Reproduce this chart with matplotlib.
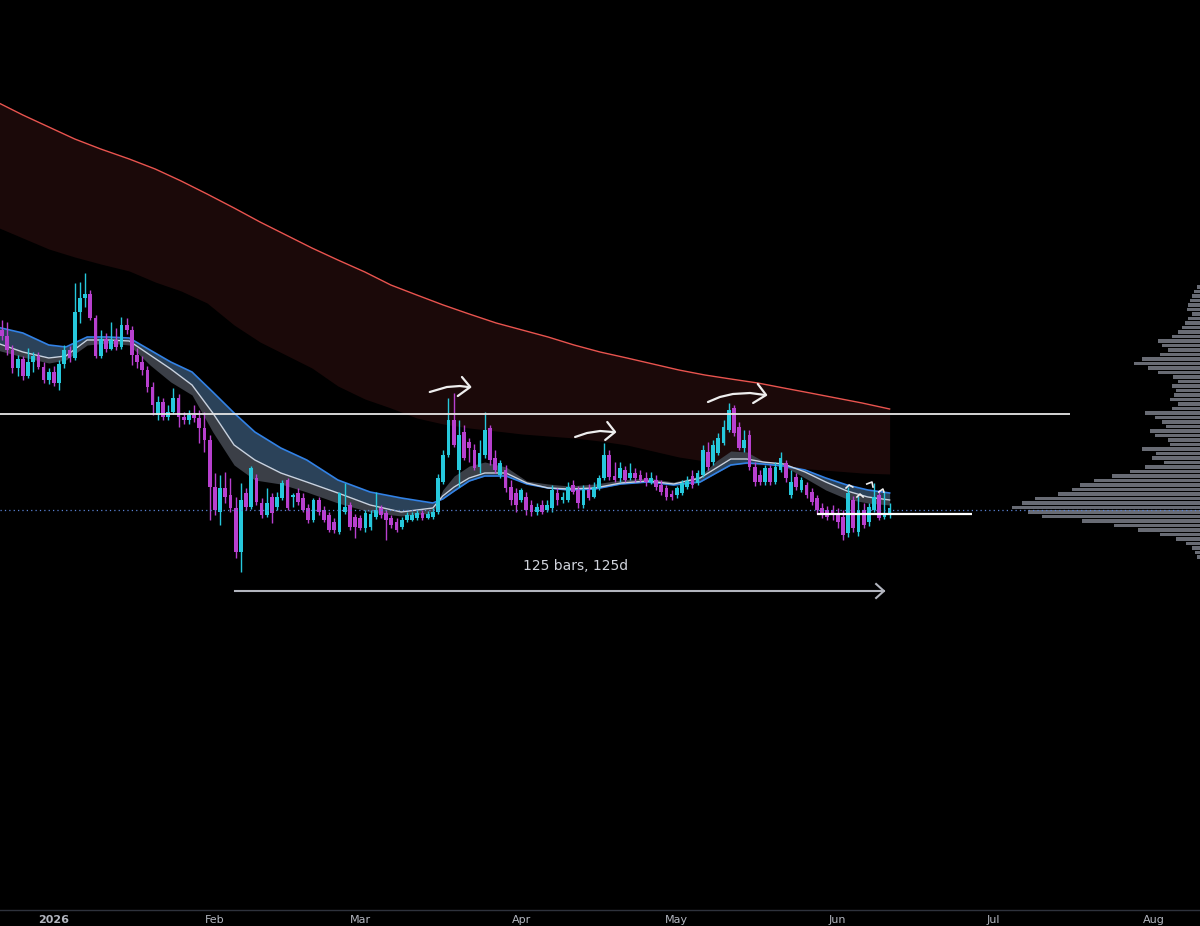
import numpy as np
import pandas as pd
import matplotlib
matplotlib.use('Agg')
import matplotlib.pyplot as plt

BASE = pd.Timestamp('2026-01-01')

# daily candles, 2025-12-22 .. 2026-06-11 (price units arbitrary, no scale shown)
start_date = '2025-12-22'
opens = [
    670, 664, 650, 632, 641, 624, 638, 644, 633, 620,
    628, 617, 636, 650, 642, 688, 702, 706, 682, 644,
    661, 651, 660, 653, 675, 670, 645, 638, 630, 613,
    585, 598, 583, 588, 602, 583, 580, 585, 582, 572,
    560, 513, 488, 512, 505, 492, 448, 507, 493, 522,
    497, 485, 503, 493, 502, 520, 503, 507, 502, 492,
    480, 500, 490, 485, 478, 468, 488, 495, 483, 482,
    472, 473, 483, 492, 487, 482, 478, 473, 480, 480,
    482, 487, 482, 483, 488, 518, 545, 580, 530, 568,
    558, 550, 533, 545, 572, 542, 525, 530, 513, 507,
    500, 503, 495, 488, 495, 490, 492, 507, 500, 500,
    515, 510, 495, 510, 503, 512, 522, 545, 524, 522,
    530, 522, 527, 525, 522, 518, 520, 515, 512, 506,
    505, 507, 513, 524, 517, 525, 548, 538, 547, 557,
    570, 592, 573, 552, 565, 533, 525, 518, 532, 518,
    530, 537, 505, 523, 510, 515, 508, 502, 492, 490,
    490, 487, 483, 467, 500, 468, 490, 478, 490, 505,
    483, 485,
]
highs = [
    680, 678, 655, 645, 644, 652, 648, 648, 638, 632,
    634, 640, 655, 654, 717, 718, 727, 710, 685, 670,
    667, 678, 672, 683, 682, 674, 652, 644, 634, 618,
    604, 602, 595, 612, 606, 588, 590, 595, 590, 588,
    565, 527, 525, 528, 522, 503, 517, 512, 534, 526,
    502, 512, 507, 508, 520, 522, 507, 512, 507, 496,
    502, 503, 494, 488, 482, 508, 517, 498, 486, 485,
    490, 490, 508, 495, 490, 485, 482, 483, 488, 488,
    490, 490, 489, 492, 526, 550, 602, 607, 580, 575,
    562, 556, 560, 588, 575, 550, 540, 535, 520, 512,
    512, 508, 500, 497, 500, 500, 515, 512, 508, 518,
    520, 514, 515, 516, 518, 525, 557, 550, 538, 538,
    534, 537, 532, 530, 528, 528, 525, 520, 515, 510,
    514, 520, 524, 530, 530, 555, 558, 560, 567, 580,
    597, 595, 578, 570, 570, 538, 530, 535, 535, 538,
    548, 540, 530, 527, 523, 518, 512, 505, 497, 494,
    495, 492, 490, 513, 504, 504, 497, 497, 517, 510,
    508, 497,
]
lows = [
    660, 645, 627, 624, 620, 622, 628, 631, 617, 616,
    614, 610, 632, 638, 640, 677, 693, 680, 642, 642,
    648, 650, 650, 651, 666, 635, 632, 625, 608, 585,
    580, 580, 580, 586, 573, 576, 576, 578, 557, 548,
    480, 485, 475, 497, 488, 442, 428, 490, 491, 495,
    482, 483, 477, 490, 500, 490, 493, 495, 488, 477,
    478, 485, 478, 468, 467, 466, 486, 470, 462, 470,
    468, 470, 481, 482, 460, 472, 468, 471, 478, 479,
    480, 480, 481, 481, 486, 516, 543, 553, 513, 540,
    538, 530, 527, 542, 535, 527, 522, 508, 495, 488,
    498, 485, 484, 485, 486, 488, 488, 495, 497, 498,
    506, 492, 492, 500, 502, 510, 520, 520, 518, 518,
    518, 520, 518, 518, 514, 516, 510, 505, 500, 500,
    502, 505, 511, 512, 515, 523, 530, 535, 545, 555,
    568, 564, 550, 548, 530, 514, 515, 515, 515, 516,
    528, 518, 502, 510, 508, 502, 495, 486, 482, 480,
    480, 472, 460, 463, 468, 464, 472, 474, 488, 480,
    481, 482,
]
closes = [
    664, 650, 632, 641, 624, 638, 644, 633, 620, 628,
    617, 636, 650, 642, 688, 702, 706, 682, 644, 661,
    651, 660, 653, 675, 670, 645, 638, 630, 613, 595,
    598, 583, 588, 602, 583, 580, 585, 582, 572, 560,
    513, 490, 512, 503, 492, 448, 500, 493, 532, 498,
    485, 497, 487, 503, 517, 492, 505, 498, 490, 480,
    500, 488, 480, 470, 470, 507, 493, 473, 473, 472,
    487, 486, 490, 485, 480, 475, 470, 480, 485, 485,
    487, 482, 486, 488, 522, 545, 580, 555, 565, 542,
    552, 532, 547, 570, 540, 530, 537, 512, 500, 495,
    510, 490, 488, 493, 488, 495, 510, 500, 503, 513,
    508, 497, 510, 502, 513, 522, 545, 523, 520, 532,
    520, 527, 522, 520, 518, 522, 513, 508, 503, 503,
    512, 517, 519, 515, 527, 550, 533, 555, 562, 573,
    590, 567, 552, 560, 533, 518, 518, 532, 518, 533,
    542, 522, 518, 513, 520, 505, 498, 490, 487, 483,
    485, 478, 465, 507, 472, 490, 475, 493, 503, 482,
    487, 492,
]

# long-term MA envelope (red), days since 2026-01-01
red_days = [-11, -6, -1, 4, 9, 14.5, 19.5, 24.5, 29.5, 34.7, 39.7, 44.7, 49.7, 54.7,
            59.9, 64.9, 69.9, 75, 80, 85.2, 90.2, 95.2, 100.2, 105.2, 110.4, 115.4,
            120.4, 125.4, 130.4, 135.6, 140.6, 145.7, 150.7, 155.7, 161]
red_upper = [898, 885, 873, 861, 851, 841, 831, 819, 806, 792, 778, 765, 752, 740,
             728, 715, 705, 695, 686, 677, 670, 663, 655, 648, 642, 636,
             630, 625, 621, 617, 612, 607, 602, 597, 591]
red_lower = [773, 762, 751, 743, 736, 729, 718, 709, 697, 675, 658, 645, 632, 614,
             601, 592, 582, 576, 572, 569, 566, 564, 562, 559, 555, 549,
             543, 539, 537, 535, 533, 531, 529, 527, 526]

# EMA ribbon
rib_days = [-11, -6, -1, 2.3, 6.4, 10.4, 14.5, 18.5, 22.5, 26.6, 30.6, 34.7, 38.7, 43.7,
            48.7, 54.7, 60.9, 66.9, 73, 74.9, 77.1, 80, 83, 87.1, 91.1, 95.2, 99.2,
            104.2, 109.2, 114.4, 119.4, 124.5, 127.6, 130.4, 133.5, 136.6, 140.6,
            144.7, 148.7, 152.8, 156.8, 161]
rib_blue = [673, 667, 655, 653, 663, 663, 662, 650, 638, 628, 608, 587, 568, 552,
            540, 520, 508, 502, 497, 501, 509, 519, 524, 524, 516, 512, 510,
            511, 516, 518, 515, 518, 527, 535, 537, 536, 534,
            530, 522, 515, 510, 507]
rib_white = [657, 648, 642, 644, 660, 660, 659, 645, 631, 615, 587, 555, 540, 527,
             518, 507, 495, 488, 492, 504, 513, 522, 527, 527, 517, 512, 511,
             512, 517, 519, 516, 522, 532, 541, 541, 538, 536,
             528, 518, 509, 503, 500]
rib_gray = [650, 643, 637, 640, 655, 657, 655, 635, 618, 605, 568, 535, 520, 516,
            508, 497, 488, 484, 487, 510, 524, 534, 538, 533, 519, 516, 514,
            516, 520, 522, 518, 524, 539, 549, 548, 539, 534,
            522, 510, 501, 497, 495]

# visible range volume profile
vp_levels = [713, 708.5, 704, 699.5, 695, 690.5, 686, 681.5, 677, 672.5,
             668, 663.5, 659, 654.5, 650, 645.5, 641, 636.5, 632, 627.5,
             623, 618.5, 614, 609.5, 605, 600.5, 596, 591.5, 587, 582.5,
             578, 573.5, 569, 564.5, 560, 555.5, 551, 546.5, 542, 537.5,
             533, 528.5, 524, 519.5, 515, 510.5, 506, 501.5, 497, 492.5,
             488, 483.5, 479, 474.5, 470, 465.5, 461, 456.5, 452, 447.5, 443]
vp_volume = [3, 6, 8, 10, 12, 13, 8, 12, 15, 18,
             22, 28, 42, 38, 32, 40, 58, 66, 52, 42,
             27, 22, 28, 24, 26, 30, 22, 28, 55, 45,
             38, 34, 50, 45, 32, 30, 58, 44, 48, 36,
             55, 70, 88, 106, 120, 128, 142, 165, 178, 188,
             172, 158, 118, 86, 62, 40, 24, 14, 8, 5, 3]

level_main = 586
level_low = 486
poc = 490.5

month_ticks = ['2026-01-01', '2026-02-01', '2026-03-01', '2026-04-01',
               '2026-05-01', '2026-06-01', '2026-07-01', '2026-08-01']
month_labels = ['2026', 'Feb', 'Mar', 'Apr', 'May', 'Jun', 'Jul', 'Aug']

CYAN = '#26c8dc'
MAGENTA = '#b840cf'

dates = pd.date_range(start_date, periods=len(closes), freq='D')
days = (dates - BASE).days.to_numpy()
o, h, l, c = (np.array(a, dtype=float) for a in (opens, highs, lows, closes))

fig = plt.figure(figsize=(12, 9.26), dpi=100, facecolor='black')
ax = fig.add_axes([0, 16 / 926, 1, 910 / 926])
ax.set_facecolor('black')
ax.set_xlim(-10.4, 220.8)
ax.set_ylim(90, 1000)

# red envelope
ax.fill_between(red_days, red_upper, red_lower, color='#1b0909', lw=0, zorder=1)
ax.plot(red_days, red_upper, color='#e9544f', lw=1.0, zorder=2)

# ribbon
ax.fill_between(rib_days, rib_blue, rib_white, color='#2b4259', lw=0, zorder=2)
ax.fill_between(rib_days, rib_white, rib_gray, color='#3b3f47', lw=0, zorder=2)
ax.plot(rib_days, rib_blue, color='#3282e6', lw=1.2, zorder=3)
ax.plot(rib_days, rib_white, color='#c9d2df', lw=1.0, zorder=3)

# candles
cols = np.where(c >= o, CYAN, MAGENTA)
ax.vlines(days, l, h, colors=cols, lw=1.0, zorder=5)
ax.bar(days, np.maximum(np.abs(c - o), 1.5), bottom=np.minimum(o, c), width=0.72,
       color=cols, lw=0, zorder=6)

# horizontal levels
ax.hlines(level_main, -10.4, 195.8, color='#e6e6e6', lw=1.3, zorder=7)
ax.hlines(level_low, 147.0, 176.9, color='#ffffff', lw=1.6, zorder=7)

# date range measure
ax.plot([34.9, 159.9], [409, 409], color='#b2b5be', lw=1.5, zorder=7)
ax.plot([158.4, 159.9, 158.4], [416, 409, 402], color='#b2b5be', lw=1.5, zorder=7)
ax.text(100.4, 434, '125 bars, 125d', color='#d1d4dc', fontsize=10,
        ha='center', va='center', zorder=8)

# hand drawn arrows
pen = dict(color='#eeeeee', lw=1.6, solid_capstyle='round', solid_joinstyle='round', zorder=8)
ax.plot([72.4, 75.7, 78.2, 79.8], [608, 613, 614, 613], **pen)
ax.plot([78.6, 80.2, 77.8], [623, 613, 604], **pen)
ax.plot([100.4, 102.7, 105.2, 107.7], [563, 567, 569, 568], **pen)
ax.plot([106.6, 108.1, 106.2], [578, 568, 560], **pen)
ax.plot([126.0, 128.3, 130.8, 134.1, 137.0], [598, 603, 606, 607, 605], **pen)
ax.plot([135.6, 137.2, 134.7], [616, 605, 597], **pen)
hook = dict(color='#eeeeee', lw=1.2, zorder=8)
ax.plot([152.6, 153.2, 153.9], [512, 515, 513], **hook)
ax.plot([154.7, 155.3, 155.9], [503, 506, 503], **hook)
ax.plot([156.6, 157.6, 157.8], [516, 518, 513], **hook)
ax.plot([158.9, 159.7, 159.9], [508, 511, 508], **hook)

# axis styling
for side in ['top', 'left', 'right']:
    ax.spines[side].set_visible(False)
ax.spines['bottom'].set_color('#2e323c')
ax.spines['bottom'].set_linewidth(1.0)
ax.set_yticks([])
ax.set_xticks([(pd.Timestamp(t) - BASE).days for t in month_ticks])
ax.set_xticklabels(month_labels)
ax.tick_params(axis='x', length=0, pad=3.5, labelsize=8, labelcolor='#b2b5be')
ax.get_xticklabels()[0].set_fontweight('bold')

# volume profile on the right edge
vp = ax.twiny()
vp.set_xlim(1200, 0)
vp.barh(vp_levels, vp_volume, height=3.7, left=0, color='#686b74', lw=0, zorder=2)
vp.axhline(poc, color='#5b83d6', lw=0.9, ls=(0, (1, 2.5)), zorder=3)
vp.axis('off')

fig.savefig('out.png', dpi=100, facecolor='black')
